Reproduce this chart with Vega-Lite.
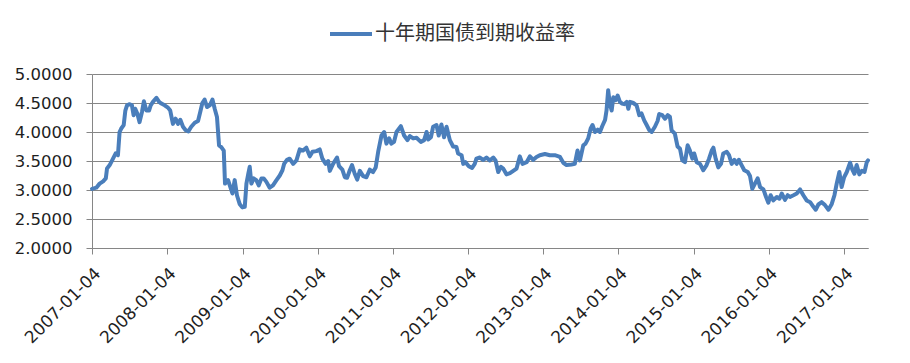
{
  "$schema": "https://vega.github.io/schema/vega-lite/v6.json",
  "width": 776,
  "height": 174,
  "autosize": {"type": "none"},
  "padding": {"left": 92, "top": 74, "right": 42, "bottom": 115},
  "background": "#ffffff",
  "config": {
    "view": {"stroke": null},
    "axis": {
      "domainColor": "#868686",
      "tickColor": "#868686",
      "gridColor": "#868686",
      "labelFont": "DejaVu Sans",
      "labelFontSize": 16.5,
      "labelColor": "#1f1f1f",
      "tickSize": 6,
      "domainWidth": 1,
      "tickWidth": 1,
      "gridWidth": 1
    }
  },
  "data": {
    "values": [
      {"date": "2007-01-04", "yield": 3.02},
      {"date": "2007-01-25", "yield": 3.04},
      {"date": "2007-02-10", "yield": 3.11},
      {"date": "2007-02-27", "yield": 3.15},
      {"date": "2007-03-12", "yield": 3.20},
      {"date": "2007-03-18", "yield": 3.37},
      {"date": "2007-03-31", "yield": 3.43},
      {"date": "2007-04-16", "yield": 3.54},
      {"date": "2007-04-29", "yield": 3.63},
      {"date": "2007-05-10", "yield": 3.60},
      {"date": "2007-05-18", "yield": 4.00},
      {"date": "2007-05-26", "yield": 4.06},
      {"date": "2007-06-07", "yield": 4.12},
      {"date": "2007-06-15", "yield": 4.37},
      {"date": "2007-06-23", "yield": 4.46},
      {"date": "2007-07-06", "yield": 4.48},
      {"date": "2007-07-17", "yield": 4.46},
      {"date": "2007-07-25", "yield": 4.29},
      {"date": "2007-08-02", "yield": 4.40},
      {"date": "2007-08-12", "yield": 4.32},
      {"date": "2007-08-23", "yield": 4.17},
      {"date": "2007-09-04", "yield": 4.35},
      {"date": "2007-09-13", "yield": 4.53},
      {"date": "2007-09-25", "yield": 4.37},
      {"date": "2007-10-08", "yield": 4.37},
      {"date": "2007-10-16", "yield": 4.46},
      {"date": "2007-10-27", "yield": 4.52},
      {"date": "2007-11-13", "yield": 4.59},
      {"date": "2007-11-26", "yield": 4.52},
      {"date": "2007-12-07", "yield": 4.49},
      {"date": "2007-12-23", "yield": 4.46},
      {"date": "2008-01-08", "yield": 4.42},
      {"date": "2008-01-19", "yield": 4.37},
      {"date": "2008-02-01", "yield": 4.14},
      {"date": "2008-02-14", "yield": 4.23},
      {"date": "2008-02-26", "yield": 4.14},
      {"date": "2008-03-08", "yield": 4.21},
      {"date": "2008-03-21", "yield": 4.09},
      {"date": "2008-04-03", "yield": 4.03},
      {"date": "2008-04-16", "yield": 4.01},
      {"date": "2008-04-30", "yield": 4.09},
      {"date": "2008-05-17", "yield": 4.16},
      {"date": "2008-06-02", "yield": 4.19},
      {"date": "2008-06-13", "yield": 4.35},
      {"date": "2008-06-23", "yield": 4.50},
      {"date": "2008-07-04", "yield": 4.56},
      {"date": "2008-07-16", "yield": 4.43},
      {"date": "2008-07-29", "yield": 4.46},
      {"date": "2008-08-11", "yield": 4.56},
      {"date": "2008-08-22", "yield": 4.40},
      {"date": "2008-09-02", "yield": 4.26},
      {"date": "2008-09-12", "yield": 3.77},
      {"date": "2008-09-23", "yield": 3.74},
      {"date": "2008-10-05", "yield": 3.68},
      {"date": "2008-10-11", "yield": 3.11},
      {"date": "2008-10-26", "yield": 3.17},
      {"date": "2008-11-06", "yield": 3.05},
      {"date": "2008-11-16", "yield": 2.94},
      {"date": "2008-11-27", "yield": 3.17},
      {"date": "2008-12-08", "yield": 2.91},
      {"date": "2008-12-21", "yield": 2.76},
      {"date": "2009-01-03", "yield": 2.70},
      {"date": "2009-01-15", "yield": 2.71},
      {"date": "2009-01-23", "yield": 3.11},
      {"date": "2009-02-01", "yield": 3.28},
      {"date": "2009-02-08", "yield": 3.40},
      {"date": "2009-02-16", "yield": 3.11},
      {"date": "2009-02-27", "yield": 3.20},
      {"date": "2009-03-12", "yield": 3.17},
      {"date": "2009-03-24", "yield": 3.08},
      {"date": "2009-04-06", "yield": 3.20},
      {"date": "2009-04-17", "yield": 3.20},
      {"date": "2009-04-30", "yield": 3.14},
      {"date": "2009-05-16", "yield": 3.04},
      {"date": "2009-06-01", "yield": 3.08},
      {"date": "2009-06-18", "yield": 3.17},
      {"date": "2009-07-04", "yield": 3.25},
      {"date": "2009-07-17", "yield": 3.34},
      {"date": "2009-07-25", "yield": 3.45},
      {"date": "2009-08-08", "yield": 3.52},
      {"date": "2009-08-21", "yield": 3.54},
      {"date": "2009-09-07", "yield": 3.45},
      {"date": "2009-09-23", "yield": 3.51},
      {"date": "2009-10-09", "yield": 3.70},
      {"date": "2009-10-25", "yield": 3.68},
      {"date": "2009-11-10", "yield": 3.73},
      {"date": "2009-11-27", "yield": 3.58},
      {"date": "2009-12-10", "yield": 3.66},
      {"date": "2009-12-29", "yield": 3.67},
      {"date": "2010-01-14", "yield": 3.70},
      {"date": "2010-01-27", "yield": 3.54},
      {"date": "2010-02-12", "yield": 3.45},
      {"date": "2010-02-24", "yield": 3.50},
      {"date": "2010-03-04", "yield": 3.33},
      {"date": "2010-03-20", "yield": 3.45},
      {"date": "2010-04-08", "yield": 3.56},
      {"date": "2010-04-18", "yield": 3.41},
      {"date": "2010-05-04", "yield": 3.35},
      {"date": "2010-05-16", "yield": 3.22},
      {"date": "2010-05-27", "yield": 3.21},
      {"date": "2010-06-09", "yield": 3.34},
      {"date": "2010-06-20", "yield": 3.43},
      {"date": "2010-07-03", "yield": 3.28},
      {"date": "2010-07-15", "yield": 3.18},
      {"date": "2010-07-28", "yield": 3.33},
      {"date": "2010-08-13", "yield": 3.24},
      {"date": "2010-08-29", "yield": 3.22},
      {"date": "2010-09-14", "yield": 3.35},
      {"date": "2010-09-30", "yield": 3.31},
      {"date": "2010-10-13", "yield": 3.39},
      {"date": "2010-10-25", "yield": 3.66},
      {"date": "2010-11-10", "yield": 3.94},
      {"date": "2010-11-23", "yield": 4.00},
      {"date": "2010-12-04", "yield": 3.80},
      {"date": "2010-12-17", "yield": 3.89},
      {"date": "2010-12-28", "yield": 3.80},
      {"date": "2011-01-10", "yield": 3.83},
      {"date": "2011-01-22", "yield": 4.00},
      {"date": "2011-02-12", "yield": 4.10},
      {"date": "2011-02-28", "yield": 3.94},
      {"date": "2011-03-16", "yield": 3.86},
      {"date": "2011-03-28", "yield": 3.93},
      {"date": "2011-04-13", "yield": 3.89},
      {"date": "2011-04-29", "yield": 3.90},
      {"date": "2011-05-20", "yield": 3.83},
      {"date": "2011-06-05", "yield": 3.86},
      {"date": "2011-06-17", "yield": 4.00},
      {"date": "2011-06-25", "yield": 3.87},
      {"date": "2011-07-08", "yield": 3.91},
      {"date": "2011-07-19", "yield": 4.09},
      {"date": "2011-08-04", "yield": 4.12},
      {"date": "2011-08-15", "yield": 3.94},
      {"date": "2011-08-28", "yield": 4.13},
      {"date": "2011-09-10", "yield": 3.91},
      {"date": "2011-09-22", "yield": 4.09},
      {"date": "2011-10-08", "yield": 3.86},
      {"date": "2011-10-24", "yield": 3.75},
      {"date": "2011-11-09", "yield": 3.74},
      {"date": "2011-11-17", "yield": 3.63},
      {"date": "2011-12-04", "yield": 3.60},
      {"date": "2011-12-12", "yield": 3.45},
      {"date": "2011-12-23", "yield": 3.48},
      {"date": "2012-01-08", "yield": 3.41},
      {"date": "2012-01-24", "yield": 3.38},
      {"date": "2012-02-06", "yield": 3.45},
      {"date": "2012-02-14", "yield": 3.54},
      {"date": "2012-03-02", "yield": 3.56},
      {"date": "2012-03-18", "yield": 3.52},
      {"date": "2012-04-03", "yield": 3.56},
      {"date": "2012-04-19", "yield": 3.51},
      {"date": "2012-05-06", "yield": 3.56},
      {"date": "2012-05-17", "yield": 3.51},
      {"date": "2012-05-30", "yield": 3.31},
      {"date": "2012-06-12", "yield": 3.40},
      {"date": "2012-06-23", "yield": 3.37},
      {"date": "2012-07-09", "yield": 3.27},
      {"date": "2012-07-26", "yield": 3.29},
      {"date": "2012-08-11", "yield": 3.33},
      {"date": "2012-08-27", "yield": 3.37},
      {"date": "2012-09-12", "yield": 3.58},
      {"date": "2012-09-25", "yield": 3.45},
      {"date": "2012-10-15", "yield": 3.48},
      {"date": "2012-10-31", "yield": 3.58},
      {"date": "2012-11-16", "yield": 3.52},
      {"date": "2012-12-02", "yield": 3.57},
      {"date": "2012-12-18", "yield": 3.60},
      {"date": "2013-01-12", "yield": 3.62},
      {"date": "2013-02-05", "yield": 3.60},
      {"date": "2013-03-01", "yield": 3.60},
      {"date": "2013-03-26", "yield": 3.57},
      {"date": "2013-04-11", "yield": 3.47},
      {"date": "2013-04-27", "yield": 3.43},
      {"date": "2013-05-21", "yield": 3.44},
      {"date": "2013-06-06", "yield": 3.45},
      {"date": "2013-06-19", "yield": 3.68},
      {"date": "2013-07-01", "yield": 3.51},
      {"date": "2013-07-17", "yield": 3.77},
      {"date": "2013-07-28", "yield": 3.80},
      {"date": "2013-08-10", "yield": 3.89},
      {"date": "2013-08-22", "yield": 4.06},
      {"date": "2013-08-31", "yield": 4.12},
      {"date": "2013-09-12", "yield": 4.00},
      {"date": "2013-09-25", "yield": 4.04},
      {"date": "2013-10-06", "yield": 4.00},
      {"date": "2013-10-17", "yield": 4.10},
      {"date": "2013-10-31", "yield": 4.21},
      {"date": "2013-11-07", "yield": 4.37},
      {"date": "2013-11-15", "yield": 4.72},
      {"date": "2013-11-23", "yield": 4.49},
      {"date": "2013-12-02", "yield": 4.37},
      {"date": "2013-12-10", "yield": 4.60},
      {"date": "2013-12-21", "yield": 4.55},
      {"date": "2013-12-31", "yield": 4.63},
      {"date": "2014-01-11", "yield": 4.52},
      {"date": "2014-01-22", "yield": 4.49},
      {"date": "2014-02-01", "yield": 4.48},
      {"date": "2014-02-13", "yield": 4.52},
      {"date": "2014-02-21", "yield": 4.40},
      {"date": "2014-03-01", "yield": 4.52},
      {"date": "2014-03-17", "yield": 4.50},
      {"date": "2014-04-02", "yield": 4.46},
      {"date": "2014-04-15", "yield": 4.29},
      {"date": "2014-04-26", "yield": 4.32},
      {"date": "2014-05-09", "yield": 4.20},
      {"date": "2014-05-21", "yield": 4.12},
      {"date": "2014-06-03", "yield": 4.03},
      {"date": "2014-06-14", "yield": 4.00},
      {"date": "2014-06-30", "yield": 4.09},
      {"date": "2014-07-13", "yield": 4.19},
      {"date": "2014-07-21", "yield": 4.31},
      {"date": "2014-08-05", "yield": 4.29},
      {"date": "2014-08-18", "yield": 4.23},
      {"date": "2014-08-31", "yield": 4.29},
      {"date": "2014-09-11", "yield": 4.26},
      {"date": "2014-09-19", "yield": 4.03},
      {"date": "2014-10-05", "yield": 3.97},
      {"date": "2014-10-18", "yield": 3.75},
      {"date": "2014-10-30", "yield": 3.71},
      {"date": "2014-11-10", "yield": 3.51},
      {"date": "2014-11-23", "yield": 3.48},
      {"date": "2014-12-06", "yield": 3.77},
      {"date": "2014-12-17", "yield": 3.68},
      {"date": "2014-12-29", "yield": 3.54},
      {"date": "2015-01-07", "yield": 3.63},
      {"date": "2015-01-19", "yield": 3.48},
      {"date": "2015-02-04", "yield": 3.45},
      {"date": "2015-02-20", "yield": 3.34},
      {"date": "2015-03-08", "yield": 3.43},
      {"date": "2015-03-20", "yield": 3.54},
      {"date": "2015-04-02", "yield": 3.68},
      {"date": "2015-04-10", "yield": 3.73},
      {"date": "2015-04-21", "yield": 3.54},
      {"date": "2015-05-04", "yield": 3.39},
      {"date": "2015-05-17", "yield": 3.45},
      {"date": "2015-05-28", "yield": 3.63},
      {"date": "2015-06-14", "yield": 3.66},
      {"date": "2015-06-25", "yield": 3.60},
      {"date": "2015-07-08", "yield": 3.45},
      {"date": "2015-07-21", "yield": 3.52},
      {"date": "2015-08-01", "yield": 3.45},
      {"date": "2015-08-12", "yield": 3.52},
      {"date": "2015-08-25", "yield": 3.43},
      {"date": "2015-09-07", "yield": 3.34},
      {"date": "2015-09-24", "yield": 3.31},
      {"date": "2015-10-05", "yield": 3.24},
      {"date": "2015-10-16", "yield": 3.02},
      {"date": "2015-10-29", "yield": 3.11},
      {"date": "2015-11-11", "yield": 3.20},
      {"date": "2015-11-23", "yield": 3.05},
      {"date": "2015-12-09", "yield": 3.01},
      {"date": "2015-12-22", "yield": 2.88},
      {"date": "2016-01-02", "yield": 2.78},
      {"date": "2016-01-13", "yield": 2.91},
      {"date": "2016-01-26", "yield": 2.82},
      {"date": "2016-02-12", "yield": 2.88},
      {"date": "2016-02-25", "yield": 2.85},
      {"date": "2016-03-07", "yield": 2.94},
      {"date": "2016-03-23", "yield": 2.83},
      {"date": "2016-04-05", "yield": 2.91},
      {"date": "2016-04-16", "yield": 2.88},
      {"date": "2016-05-03", "yield": 2.91},
      {"date": "2016-05-19", "yield": 2.94},
      {"date": "2016-06-04", "yield": 3.01},
      {"date": "2016-06-20", "yield": 2.91},
      {"date": "2016-07-06", "yield": 2.82},
      {"date": "2016-07-23", "yield": 2.79},
      {"date": "2016-08-08", "yield": 2.71},
      {"date": "2016-08-19", "yield": 2.66},
      {"date": "2016-09-01", "yield": 2.75},
      {"date": "2016-09-17", "yield": 2.79},
      {"date": "2016-10-03", "yield": 2.74},
      {"date": "2016-10-20", "yield": 2.66},
      {"date": "2016-11-05", "yield": 2.76},
      {"date": "2016-11-18", "yield": 2.91},
      {"date": "2016-11-29", "yield": 3.11},
      {"date": "2016-12-12", "yield": 3.31},
      {"date": "2016-12-23", "yield": 3.05},
      {"date": "2017-01-04", "yield": 3.22},
      {"date": "2017-01-17", "yield": 3.31},
      {"date": "2017-02-02", "yield": 3.47},
      {"date": "2017-02-13", "yield": 3.35},
      {"date": "2017-02-23", "yield": 3.28},
      {"date": "2017-03-06", "yield": 3.43},
      {"date": "2017-03-19", "yield": 3.27},
      {"date": "2017-03-31", "yield": 3.33},
      {"date": "2017-04-13", "yield": 3.31},
      {"date": "2017-04-24", "yield": 3.48},
      {"date": "2017-04-30", "yield": 3.51}
    ]
  },
  "mark": {"type": "line", "strokeWidth": 4, "strokeJoin": "round", "strokeCap": "round"},
  "encoding": {
    "x": {
      "field": "date",
      "type": "temporal",
      "scale": {
        "type": "utc",
        "nice": false,
        "domain": [
          {"year": 2007, "month": 1, "date": 4, "utc": true},
          {"year": 2017, "month": 4, "date": 30, "utc": true}
        ]
      },
      "axis": {
        "title": null,
        "grid": false,
        "format": "%Y-%m-%d",
        "labelAngle": -45,
        "labelFontSize": 17,
        "labelPadding": 11,
        "labelOverlap": false,
        "labelFlush": false,
        "values": [
          {"year": 2007, "month": 1, "date": 4, "utc": true},
          {"year": 2008, "month": 1, "date": 4, "utc": true},
          {"year": 2009, "month": 1, "date": 4, "utc": true},
          {"year": 2010, "month": 1, "date": 4, "utc": true},
          {"year": 2011, "month": 1, "date": 4, "utc": true},
          {"year": 2012, "month": 1, "date": 4, "utc": true},
          {"year": 2013, "month": 1, "date": 4, "utc": true},
          {"year": 2014, "month": 1, "date": 4, "utc": true},
          {"year": 2015, "month": 1, "date": 4, "utc": true},
          {"year": 2016, "month": 1, "date": 4, "utc": true},
          {"year": 2017, "month": 1, "date": 4, "utc": true}
        ]
      }
    },
    "y": {
      "field": "yield",
      "type": "quantitative",
      "scale": {"domain": [2, 5], "nice": false, "zero": false},
      "axis": {
        "title": null,
        "grid": true,
        "values": [2, 2.5, 3, 3.5, 4, 4.5, 5],
        "format": ".4f",
        "labelPadding": 14
      }
    },
    "color": {
      "datum": "十年期国债到期收益率",
      "type": "nominal",
      "scale": {"range": ["#4A7EBB"]},
      "legend": {
        "title": null,
        "orient": "none",
        "legendX": 236,
        "legendY": -63,
        "padding": 0,
        "symbolType": "stroke",
        "symbolSize": 1764,
        "symbolStrokeWidth": 4,
        "symbolStrokeColor": "#4A7EBB",
        "labelFont": "Noto Sans CJK SC",
        "labelFontSize": 20,
        "labelColor": "#333333",
        "labelOffset": 1,
        "labelLimit": 0
      }
    }
  }
}
